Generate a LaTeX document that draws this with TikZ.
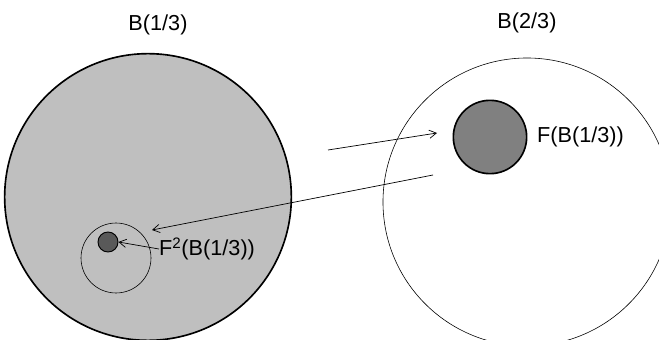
\documentclass[tikz,border=0pt]{standalone}
\usepackage{fontspec}
\setmainfont{Liberation Sans}
\usetikzlibrary{arrows.meta,positioning}

\begin{document}
\begin{tikzpicture}[
    x=0.03cm, y=-0.03cm,
    ball/.style={circle, draw=black, inner sep=0pt, minimum size=#1},
    lbl/.style={inner sep=0pt, font=\fontsize{18.5}{22}\selectfont},
    arrow/.style={-{Straight Barb[length=6pt, width=7pt]}, line width=0.6pt}
]
    \useasboundingbox (0,0) rectangle (659,340);
    % the two balls
    \node[ball=8.6cm, fill=black!25, line width=1.4pt] (b1) at (148,197) {};
    \node[ball=8.64cm, fill=white, line width=0.5pt] (b2) at (527,202) {};
    \node[lbl] (b1lbl) at (158,25) {B(1/3)};
    \node[lbl] (b2lbl) at (527,23) {B(2/3)};
    % image of B(1/3)
    \node[ball=2.2cm, fill=black!50, line width=1.4pt] (fb) at (490,137) {};
    \node[lbl, anchor=west] (fblbl) at (537,137) {F(B(1/3))};
    % second image
    \node[ball=2.1cm, line width=0.5pt] (ring) at (116,258) {};
    \node[ball=0.6cm, fill=black!65, line width=0.8pt] (ffb) at (108,242) {};
    \node[lbl, anchor=west] (ffblbl) at (159,249) {F\textsuperscript{2}(B(1/3))};
    % arrows
    \coordinate (a1) at (328,150);
    \coordinate (a2) at (437,133);
    \coordinate (c1) at (433,175);
    \coordinate (c2) at (152,230);
    \draw[arrow] (a1) -- (a2);
    \draw[arrow] (c1) -- (c2);
    \draw[arrow] (ffblbl.west) -- (ffb.east);
\end{tikzpicture}
\end{document}
